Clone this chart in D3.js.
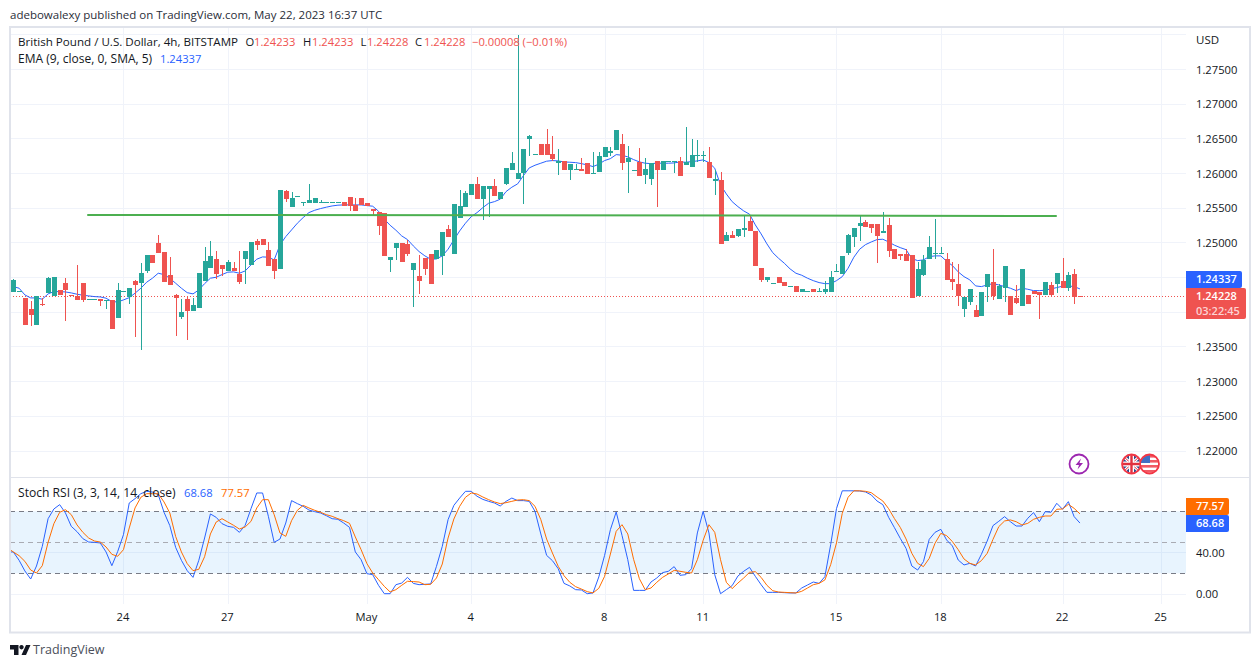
<!DOCTYPE html>
<html>
<head>
<meta charset="utf-8">
<script src="https://cdnjs.cloudflare.com/ajax/libs/d3/7.8.5/d3.min.js"></script>
<style>
  html, body { margin: 0; padding: 0; background: #fff; }
  svg { display: block; }
  text { font-family: "Open Sans", sans-serif; font-size: 12px; fill: #131722; }
  .domain { display: none; }
</style>
</head>
<body>
<svg id="chart" width="1260" height="668"></svg>
<script>
// GBP/USD 4h candles
var opens = [
  1.24298,1.24298,1.24202,1.24048,1.23818,1.24113,1.24279,1.24236,1.24322,1.24423,
  1.24243,1.24236,1.24423,1.24185,1.24185,1.24188,1.24170,1.24174,1.23919,1.24300,
  1.24226,1.24452,1.24423,1.24596,1.24827,1.25000,1.24870,1.24539,1.24250,1.23933,
  1.24193,1.24020,1.24063,1.24452,1.24640,1.24769,1.24683,1.24596,1.24640,1.24553,
  1.24769,1.24683,1.25029,1.25058,1.24899,1.24769,1.24625,1.25750,1.25519,1.25675,
  1.25585,1.25577,1.25577,1.25585,1.25585,1.25585,1.25585,1.25591,1.25663,1.25548,
  1.25649,1.25577,1.25490,1.25447,1.25433,1.24755,1.24928,1.25000,1.24986,1.24611,
  1.24524,1.24784,1.24841,1.24769,1.24813,1.25202,1.24841,1.25360,1.25519,1.25692,
  1.25851,1.25634,1.25779,1.25822,1.25634,1.25851,1.26052,1.25923,1.26009,1.26499,
  1.26280,1.26427,1.26427,1.26283,1.26153,1.26182,1.26052,1.26060,1.26067,1.26153,
  1.26005,1.26024,1.26240,1.26298,1.26341,1.26427,1.26168,1.26048,1.26168,1.25980,
  1.25923,1.26182,1.26052,1.26175,1.26175,1.26182,1.26125,1.26096,1.26260,1.26260,
  1.26168,1.25894,1.25908,1.25029,1.25115,1.25101,1.25187,1.25317,1.25173,1.24640,
  1.24467,1.24415,1.24510,1.24438,1.24372,1.24380,1.24293,1.24300,1.24337,1.24300,
  1.24293,1.24293,1.24585,1.24553,1.24856,1.25087,1.25245,1.25303,1.25274,1.25274,
  1.25144,1.25260,1.24913,1.24841,1.24841,1.24827,1.24236,1.24539,1.24769,1.24850,
  1.24850,1.24769,1.24481,1.24409,1.24048,1.24149,1.24034,1.23948,1.24366,1.24438,
  1.24193,1.24351,1.24236,1.24207,1.24092,1.24250,1.24308,1.24293,1.24250,1.24394,
  1.24409,1.24452,1.24351,1.24553,1.24233
];
var highs = [
  1.24481,1.24308,1.24207,1.24164,1.24236,1.24207,1.24502,1.24510,1.24322,1.24495,
  1.24243,1.24683,1.24423,1.24190,1.24190,1.24188,1.24178,1.24174,1.24423,1.24305,
  1.24351,1.24467,1.24712,1.24827,1.24827,1.25115,1.24870,1.24798,1.24265,1.24193,
  1.24236,1.24207,1.24567,1.24942,1.25029,1.24885,1.24683,1.24755,1.24726,1.24885,
  1.24885,1.25014,1.25058,1.25058,1.25014,1.24769,1.25764,1.25764,1.25735,1.25680,
  1.25590,1.25851,1.25649,1.25620,1.25590,1.25590,1.25590,1.25591,1.25663,1.25649,
  1.25649,1.25577,1.25490,1.25447,1.25433,1.24798,1.25000,1.25000,1.25043,1.24712,
  1.24827,1.24784,1.24841,1.24899,1.25159,1.25260,1.25562,1.25764,1.25750,1.25851,
  1.25952,1.25822,1.25822,1.25923,1.25735,1.26081,1.26312,1.27999,1.26355,1.26557,
  1.26285,1.26427,1.26644,1.26543,1.26355,1.26182,1.26139,1.26139,1.26225,1.26153,
  1.26312,1.26312,1.26384,1.26384,1.26629,1.26571,1.26398,1.26052,1.26370,1.26225,
  1.26153,1.26182,1.26182,1.26180,1.26180,1.26240,1.26672,1.26499,1.26485,1.26326,
  1.26384,1.26052,1.26024,1.25159,1.25173,1.25202,1.25389,1.25389,1.25173,1.24640,
  1.24510,1.24420,1.24510,1.24438,1.24377,1.24380,1.24337,1.24305,1.24337,1.24351,
  1.24452,1.24596,1.24697,1.24813,1.25130,1.25216,1.25389,1.25332,1.25274,1.25274,
  1.25447,1.25360,1.24913,1.24841,1.24913,1.24827,1.24726,1.24827,1.25101,1.25346,
  1.24942,1.24856,1.24726,1.24697,1.24221,1.24337,1.24106,1.24293,1.24553,1.24913,
  1.24409,1.24668,1.24236,1.24394,1.24625,1.24250,1.24308,1.24293,1.24438,1.24438,
  1.24567,1.24784,1.24582,1.24625,1.24233
];
var lows = [
  1.24298,1.24298,1.23818,1.23808,1.23818,1.24096,1.24279,1.24236,1.24250,1.23875,
  1.24236,1.24178,1.24149,1.24185,1.24185,1.24092,1.24048,1.23760,1.23919,1.24300,
  1.24120,1.23645,1.23457,1.24567,1.24712,1.24856,1.24438,1.24394,1.23659,1.23904,
  1.23602,1.24020,1.24063,1.24452,1.24640,1.24481,1.24524,1.24596,1.24596,1.24409,
  1.24409,1.24683,1.24899,1.24971,1.24668,1.24481,1.24625,1.25591,1.25519,1.25675,
  1.25533,1.25577,1.25577,1.25585,1.25585,1.25585,1.25585,1.25538,1.25461,1.25461,
  1.25548,1.25533,1.25389,1.25115,1.24813,1.24582,1.24755,1.24726,1.24813,1.24077,
  1.24265,1.24539,1.24409,1.24769,1.24539,1.25087,1.24841,1.25360,1.25519,1.25692,
  1.25634,1.25332,1.25375,1.25678,1.25634,1.25836,1.26052,1.25923,1.25562,1.26254,
  1.26280,1.26269,1.26269,1.26182,1.25980,1.26052,1.25908,1.26060,1.26038,1.25995,
  1.26005,1.26024,1.26240,1.26254,1.26341,1.26052,1.25721,1.26048,1.25966,1.25851,
  1.25836,1.25519,1.26052,1.26175,1.26009,1.25966,1.26125,1.26096,1.26168,1.26168,
  1.25937,1.25692,1.24986,1.25029,1.25072,1.25087,1.25087,1.25173,1.24668,1.24438,
  1.24438,1.24415,1.24423,1.24380,1.24372,1.24293,1.24293,1.24300,1.24293,1.24300,
  1.24265,1.24293,1.24585,1.24553,1.24827,1.24942,1.25029,1.25231,1.25144,1.24712,
  1.25144,1.24798,1.24769,1.24755,1.24740,1.24207,1.24236,1.24524,1.24769,1.24769,
  1.24850,1.24467,1.24322,1.24092,1.23933,1.24106,1.23933,1.23948,1.24149,1.24178,
  1.24193,1.24149,1.23962,1.24120,1.24092,1.24120,1.24265,1.23904,1.24250,1.24221,
  1.24279,1.24351,1.24308,1.24120,1.24228
];
var closes = [
  1.24467,1.24308,1.23818,1.23962,1.24236,1.24099,1.24491,1.24510,1.24250,1.24322,
  1.24236,1.24178,1.24178,1.24190,1.24190,1.24164,1.24178,1.23760,1.24322,1.24305,
  1.24351,1.24394,1.24567,1.24827,1.24712,1.24856,1.24438,1.24394,1.24207,1.24005,
  1.24020,1.24106,1.24567,1.24740,1.24813,1.24553,1.24625,1.24726,1.24596,1.24438,
  1.24885,1.25014,1.24971,1.24971,1.24668,1.24596,1.25764,1.25634,1.25649,1.25680,
  1.25590,1.25620,1.25649,1.25590,1.25590,1.25590,1.25590,1.25538,1.25538,1.25461,
  1.25548,1.25533,1.25466,1.25245,1.24813,1.24798,1.25000,1.24726,1.24841,1.24712,
  1.24452,1.24625,1.24409,1.24899,1.25159,1.25087,1.25562,1.25533,1.25721,1.25851,
  1.25634,1.25822,1.25822,1.25678,1.25735,1.26081,1.26153,1.26009,1.26355,1.26543,
  1.26285,1.26269,1.26269,1.26211,1.26182,1.26052,1.26139,1.26067,1.26038,1.25995,
  1.26009,1.26254,1.26384,1.26326,1.26629,1.26153,1.26225,1.26052,1.25966,1.26067,
  1.26153,1.26052,1.26182,1.26180,1.26180,1.25966,1.26168,1.26269,1.26265,1.26265,
  1.25937,1.25923,1.24986,1.25115,1.25072,1.25202,1.25216,1.25173,1.24668,1.24467,
  1.24510,1.24420,1.24423,1.24380,1.24377,1.24293,1.24337,1.24305,1.24293,1.24305,
  1.24337,1.24510,1.24590,1.24813,1.25115,1.25216,1.25288,1.25231,1.25216,1.25101,
  1.25173,1.24885,1.24769,1.24813,1.24740,1.24207,1.24625,1.24755,1.24942,1.24852,
  1.24852,1.24467,1.24438,1.24236,1.24221,1.24337,1.23933,1.24293,1.24553,1.24236,
  1.24380,1.24668,1.23962,1.24135,1.24625,1.24120,1.24265,1.24250,1.24438,1.24250,
  1.24567,1.24351,1.24539,1.24221,1.24228
];
var emaValues = [
  1.24370,1.24347,1.24250,1.24207,1.24207,1.24188,1.24265,1.24298,1.24298,1.24293,
  1.24279,1.24260,1.24246,1.24236,1.24226,1.24221,1.24203,1.24154,1.24149,1.24178,
  1.24211,1.24275,1.24347,1.24433,1.24491,1.24563,1.24543,1.24491,1.24419,1.24347,
  1.24283,1.24265,1.24322,1.24413,1.24491,1.24505,1.24543,1.24578,1.24582,1.24563,
  1.24596,1.24683,1.24765,1.24798,1.24794,1.24755,1.24971,1.25091,1.25187,1.25284,
  1.25365,1.25437,1.25471,1.25495,1.25515,1.25533,1.25544,1.25548,1.25548,1.25548,
  1.25548,1.25538,1.25529,1.25457,1.25342,1.25255,1.25183,1.25101,1.25048,1.24957,
  1.24875,1.24813,1.24765,1.24769,1.24813,1.24909,1.25043,1.25173,1.25284,1.25379,
  1.25437,1.25509,1.25572,1.25595,1.25630,1.25740,1.25803,1.25851,1.25970,1.26081,
  1.26120,1.26149,1.26178,1.26187,1.26182,1.26168,1.26163,1.26158,1.26143,1.26125,
  1.26100,1.26135,1.26187,1.26215,1.26273,1.26264,1.26240,1.26201,1.26168,1.26149,
  1.26143,1.26149,1.26149,1.26149,1.26153,1.26168,1.26163,1.26172,1.26182,1.26197,
  1.26158,1.26077,1.25836,1.25706,1.25595,1.25523,1.25461,1.25414,1.25260,1.25130,
  1.24986,1.24860,1.24779,1.24707,1.24625,1.24563,1.24534,1.24491,1.24456,1.24428,
  1.24413,1.24413,1.24456,1.24514,1.24635,1.24794,1.24909,1.24975,1.25014,1.25048,
  1.25053,1.25014,1.24967,1.24932,1.24903,1.24774,1.24745,1.24755,1.24802,1.24813,
  1.24813,1.24736,1.24673,1.24582,1.24514,1.24467,1.24380,1.24370,1.24394,1.24413,
  1.24394,1.24370,1.24347,1.24312,1.24347,1.24332,1.24312,1.24312,1.24318,1.24337,
  1.24356,1.24376,1.24380,1.24370,1.24337
];
var stochK = [
  40.7,32.6,22.3,14.5,27.1,46.1,72.9,82.3,86.5,78.4,65.5,60.3,53.6,50.3,50.0,49.4,40.7,27.4,41.0,57.4,
  88.1,92.3,97.1,99.4,98.7,96.2,79.1,66.2,45.2,32.6,22.6,16.1,32.6,54.2,77.5,74.2,68.1,65.5,64.5,59.7,
  66.5,82.6,97.8,97.8,75.2,50.0,53.2,68.7,90.4,87.5,84.9,81.3,79.7,78.4,75.8,72.9,72.3,68.7,64.5,40.7,
  33.2,19.7,18.7,8.4,0.3,0.3,9.0,10.6,16.1,10.3,9.0,9.4,9.7,26.8,46.1,72.0,85.8,92.9,99.4,99.4,
  94.6,91.6,89.7,88.1,85.2,89.7,92.9,90.4,90.4,89.7,80.0,58.1,37.4,32.3,24.5,10.3,7.8,4.2,3.9,0.3,
  1.0,16.5,37.4,62.3,79.4,56.8,33.2,3.5,3.5,3.5,11.6,15.5,20.7,22.0,26.5,18.1,18.7,24.5,59.1,80.0,
  59.1,18.7,0.3,4.2,8.1,17.4,22.0,25.8,17.1,9.0,1.6,1.6,1.6,1.3,1.0,1.0,5.8,8.7,11.6,10.3,
  16.8,47.8,82.6,99.9,99.9,99.9,99.7,98.8,95.9,90.0,86.5,74.2,64.2,53.9,44.2,27.1,23.2,31.3,52.9,59.7,
  62.6,52.3,46.5,32.9,28.1,29.7,27.1,38.4,51.3,66.2,70.4,74.9,70.0,65.8,65.8,73.3,78.8,70.0,79.7,79.1,
  87.8,82.0,89.4,74.9,68.68
];
var stochD = [
  40.7,37.1,31.6,23.2,20.3,27.4,50.0,68.1,79.1,81.6,76.8,66.8,59.7,54.2,51.3,50.3,45.5,38.4,36.5,42.9,
  63.9,83.3,93.6,97.1,97.1,97.1,89.1,78.4,55.8,40.7,29.4,22.6,23.9,36.1,58.1,69.7,72.9,69.7,66.5,62.9,
  64.9,70.3,83.3,91.3,91.3,76.8,59.1,55.8,71.0,81.0,85.8,83.3,81.0,79.1,76.8,75.2,72.9,71.0,68.4,55.2,
  42.9,29.4,20.3,13.9,7.4,2.0,4.2,8.4,12.3,12.0,11.6,9.0,9.4,15.5,29.0,54.2,72.6,84.9,93.6,97.8,
  96.8,93.9,91.3,89.1,87.5,88.4,89.7,91.0,91.3,90.4,84.9,72.0,53.2,39.7,26.8,17.7,11.3,7.1,4.8,2.3,
  1.0,5.5,17.1,38.7,60.7,67.1,58.1,33.6,14.8,4.2,5.8,11.3,16.1,19.4,22.9,22.0,21.0,20.3,33.2,52.0,
  67.1,59.7,33.2,11.3,5.2,10.6,15.5,21.0,21.6,16.1,8.4,3.2,1.9,1.6,1.3,1.0,2.6,5.8,9.0,10.3,
  13.6,28.4,49.4,78.1,93.6,99.9,99.9,99.4,98.1,93.9,90.0,82.6,73.0,64.5,53.3,39.4,29.7,26.5,34.5,49.1,
  58.7,56.5,50.7,42.9,33.9,29.7,28.1,32.3,39.4,52.9,65.2,70.7,71.7,70.0,66.8,68.4,72.3,74.2,75.5,75.5,
  82.0,82.3,86.8,82.9,77.57
];
// where the three lines enter at the left edge of the plot
var edgeIndex = -0.57, emaEdge = 1.24370, stochKEdge = 40.7, stochDEdge = 43;
var trendIndex = [12.76, 180];
var trendPrice = [1.25404, 1.25389];
var priceGrid = [1.28,1.275,1.27,1.265,1.26,1.255,1.25,1.245,1.24,1.235,1.23,1.225,1.22];
var priceLabels = [1.275,1.27,1.265,1.26,1.255,1.25,1.235,1.23,1.225,1.22];
var stochGrid = [40, 0];
var dateTicks = [19, 37, 61, 79, 102, 119, 142, 160, 181, 198];
var dateLabels = ["24", "27", "May", "4", "8", "11", "15", "18", "22", "25"];

var UP = "#26a69a", DOWN = "#ef5350", GRID = "#f0f3fa", FRAME = "#e0e3eb";
var BLUE = "#2962ff", ORANGE = "#ff6d00", TEXT = "#131722";

var svg = d3.select("#chart");
var plotLeft = 10, plotRight = 1186;
var bandWidth = 5;

var x = d3.scaleLinear().domain([0, 184]).range([13.3, 13.3 + 5.797 * 184]);
var y = d3.scaleLinear().domain([1.22, 1.275]).range([451, 69.5]);
var yStoch = d3.scaleLinear().domain([0, 100]).range([594, 490.7]);
var indexes = d3.range(opens.length);

/* ---- grid ---- */
var grid = svg.append("g").attr("stroke", GRID).attr("shape-rendering", "crispEdges");
grid.selectAll(".v").data(dateTicks).enter().append("line")
    .attr("x1", function(d) { return Math.round(x(d)) + 0.5; })
    .attr("x2", function(d) { return Math.round(x(d)) + 0.5; })
    .attr("y1", 28).attr("y2", 604);
grid.selectAll(".h").data(priceGrid).enter().append("line")
    .attr("x1", plotLeft).attr("x2", plotRight)
    .attr("y1", function(d) { return y(d); })
    .attr("y2", function(d) { return y(d); });
grid.selectAll(".s").data(stochGrid).enter().append("line")
    .attr("x1", plotLeft).attr("x2", plotRight)
    .attr("y1", function(d) { return yStoch(d); })
    .attr("y2", function(d) { return yStoch(d); });

/* ---- stoch band and levels ---- */
svg.append("rect")
    .attr("x", plotLeft).attr("width", plotRight - plotLeft)
    .attr("y", yStoch(80)).attr("height", yStoch(20) - yStoch(80))
    .attr("fill", "#2196f3").attr("fill-opacity", 0.1);
[[80, "#787b86"], [50, "#a9abb3"], [20, "#787b86"]].forEach(function(l) {
  svg.append("line")
      .attr("x1", plotLeft).attr("x2", plotRight)
      .attr("y1", yStoch(l[0])).attr("y2", yStoch(l[0]))
      .attr("stroke", l[1]).attr("stroke-dasharray", "5 4")
      .attr("shape-rendering", "crispEdges");
});

/* ---- last price line ---- */
svg.append("line")
    .attr("x1", plotLeft).attr("x2", plotRight)
    .attr("y1", y(1.24228)).attr("y2", y(1.24228))
    .attr("stroke", DOWN).attr("stroke-dasharray", "1 2")
    .attr("shape-rendering", "crispEdges");

/* ---- ema + candles + trendline ---- */
function color(i) { return closes[i] >= opens[i] ? UP : DOWN; }

function seriesLine(values, edge, scale) {
  var pts = [[edgeIndex, edge]].concat(indexes.map(function(i) { return [i, values[i]]; }));
  return d3.line().x(function(d) { return x(d[0]); }).y(function(d) { return scale(d[1]); })(pts);
}
svg.append("path").attr("d", seriesLine(emaValues, emaEdge, y))
    .attr("fill", "none").attr("stroke", BLUE).attr("stroke-width", 1);

var candles = svg.append("g").attr("shape-rendering", "crispEdges");
candles.selectAll(".wick").data(indexes).enter().append("rect")
    .attr("class", "wick")
    .attr("x", function(i) { return Math.round(x(i)); })
    .attr("width", 1)
    .attr("y", function(i) { return y(highs[i]); })
    .attr("height", function(i) { return y(lows[i]) - y(highs[i]); })
    .attr("fill", color);
candles.selectAll(".body").data(indexes).enter().append("rect")
    .attr("class", "body")
    .attr("x", function(i) { return Math.round(x(i)) - 2; })
    .attr("width", bandWidth)
    .attr("y", function(i) { return y(Math.max(opens[i], closes[i])); })
    .attr("height", function(i) { return Math.max(1, Math.abs(y(opens[i]) - y(closes[i]))); })
    .attr("fill", color);

svg.append("line")
    .attr("x1", x(trendIndex[0])).attr("x2", x(trendIndex[1]))
    .attr("y1", y(trendPrice[0])).attr("y2", y(trendPrice[1]))
    .attr("stroke", "#4caf50").attr("stroke-width", 2);

/* ---- stoch lines ---- */
svg.append("path").attr("d", seriesLine(stochK, stochKEdge, yStoch)).attr("fill", "none").attr("stroke", BLUE);
svg.append("path").attr("d", seriesLine(stochD, stochDEdge, yStoch)).attr("fill", "none").attr("stroke", ORANGE);

/* ---- frame ---- */
svg.append("rect").attr("x", 10).attr("y", 27).attr("width", 1240).attr("height", 605.5)
    .attr("fill", "none").attr("stroke", FRAME).attr("stroke-width", 2);
svg.append("line").attr("x1", 10).attr("x2", 1250).attr("y1", 477.5).attr("y2", 477.5)
    .attr("stroke", FRAME);

/* ---- axes ---- */
svg.append("g").attr("transform", "translate(" + plotRight + ",0)")
    .call(d3.axisRight(y).tickValues(priceLabels).tickSize(0).tickPadding(10).tickFormat(d3.format(".5f")));
svg.append("g").attr("transform", "translate(" + plotRight + ",0)")
    .call(d3.axisRight(yStoch).tickValues(stochGrid).tickSize(0).tickPadding(10).tickFormat(d3.format(".2f")));
svg.append("g").attr("transform", "translate(-1,604)")
    .call(d3.axisBottom(x).tickValues(dateTicks).tickSize(0).tickPadding(9)
      .tickFormat(function(d, i) { return dateLabels[i]; }));
svg.selectAll(".tick text").style("font-family", '"Open Sans", sans-serif').style("font-size", "11.2px").style("fill", TEXT);

/* ---- text ---- */
function label(px, py, str, fill, size, weight) {
  return svg.append("text").attr("x", px).attr("y", py).attr("dy", "0.35em")
      .style("fill", fill || TEXT).style("font-size", (size || 11.2) + "px")
      .style("font-weight", weight || 400).text(str);
}
label(10, 15, "adebowalexy published on TradingView.com, May 22, 2023 16:37 UTC", "#2a2e39", 11.5);
label(1196, 40, "USD", TEXT, 11.5);

var red = "#ef5350";
label(18, 42, "British Pound / U.S. Dollar, 4h, BITSTAMP", TEXT, 11.6);
label(245.5, 42, "O"); label(254, 42, "1.24233", red);
label(303, 42, "H"); label(312, 42, "1.24233", red);
label(360.5, 42, "L"); label(367, 42, "1.24228", red);
label(415, 42, "C"); label(424, 42, "1.24228", red);
label(472, 42, "\u22120.00008 (\u22120.01%)", red);
label(18, 59, "EMA (9, close, 0, SMA, 5)", TEXT, 12);
label(160, 59, "1.24337", BLUE);
label(18, 493, "Stoch RSI (3, 3, 14, 14, close)", TEXT, 12.1);
label(184, 493, "68.68", BLUE);
label(221, 493, "77.57", ORANGE);
label(33, 650, "TradingView", "#4a4e59", 12.5);

/* ---- price tags ---- */
function tag(top, h, w, fill, lines) {
  svg.append("path")
      .attr("d", "M" + plotRight + "," + top + "h" + (w - 2) + "a2,2 0 0 1 2,2v" + (h - 4) +
                 "a2,2 0 0 1 -2,2h-" + (w - 2) + "z")
      .attr("fill", fill);
  lines.forEach(function(l) {
    label(plotRight + 10, l[0], l[1], l[2] || "#fff", 11, 600);
  });
}
tag(271, 17, 56, BLUE, [[279.5, "1.24337"]]);
tag(288, 31, 60, DOWN, [[296.5, "1.24228"], [311, "03:22:45", "#fcd4d4"]]);
tag(498, 17, 43, ORANGE, [[506.5, "77.57"]]);
tag(515, 17, 43, BLUE, [[523.5, "68.68"]]);

/* ---- event icons ---- */
function badge(cx, id, draw, ring) {
  var clip = svg.append("clipPath").attr("id", id);
  clip.append("circle").attr("cx", cx).attr("cy", 464).attr("r", 9);
  var g = svg.append("g").attr("clip-path", "url(#" + id + ")");
  draw(g);
  svg.append("circle").attr("cx", cx).attr("cy", 464).attr("r", 9.5)
      .attr("fill", "none").attr("stroke", ring).attr("stroke-width", 1.8);
}
badge(1079, "bolt", function(g) {
  g.append("path").attr("d", "M1081,458.5L1075.5,465H1079L1077.5,469.5L1083,463H1079.5Z").attr("fill", "#9c27b0");
}, "#9c27b0");
badge(1131.5, "uk", function(g) {
  g.append("rect").attr("x", 1121).attr("y", 454).attr("width", 21).attr("height", 20).attr("fill", "#2d4a8f");
  g.append("path").attr("d", "M1121,454L1142,474M1142,454L1121,474").attr("stroke", "#fff").attr("stroke-width", 3);
  g.append("path").attr("d", "M1121,454L1142,474M1142,454L1121,474").attr("stroke", "#e0303e").attr("stroke-width", 1);
  g.append("path").attr("d", "M1131.5,454V474M1121,464H1142").attr("stroke", "#fff").attr("stroke-width", 5);
  g.append("path").attr("d", "M1131.5,454V474M1121,464H1142").attr("stroke", "#e0303e").attr("stroke-width", 2.4);
}, "#f23645");
badge(1149.5, "us", function(g) {
  g.append("rect").attr("x", 1139).attr("y", 454).attr("width", 21).attr("height", 20).attr("fill", "#fff");
  [455, 460, 465, 470].forEach(function(s) {
    g.append("rect").attr("x", 1139).attr("y", s).attr("width", 21).attr("height", 2.6).attr("fill", "#f05a64");
  });
  g.append("rect").attr("x", 1139).attr("y", 454).attr("width", 11).attr("height", 9).attr("fill", "#3f6fc4");
}, "#f23645");

/* ---- logo ---- */
svg.append("path")
    .attr("d", "M10,645H18.5V655H14V649.5H10ZM26,645H30.5L26,655H21.5ZM21.5,645a2.2,2.2 0 1 0 0.01,0Z")
    .attr("fill", "#131722");
</script>
</body>
</html>
